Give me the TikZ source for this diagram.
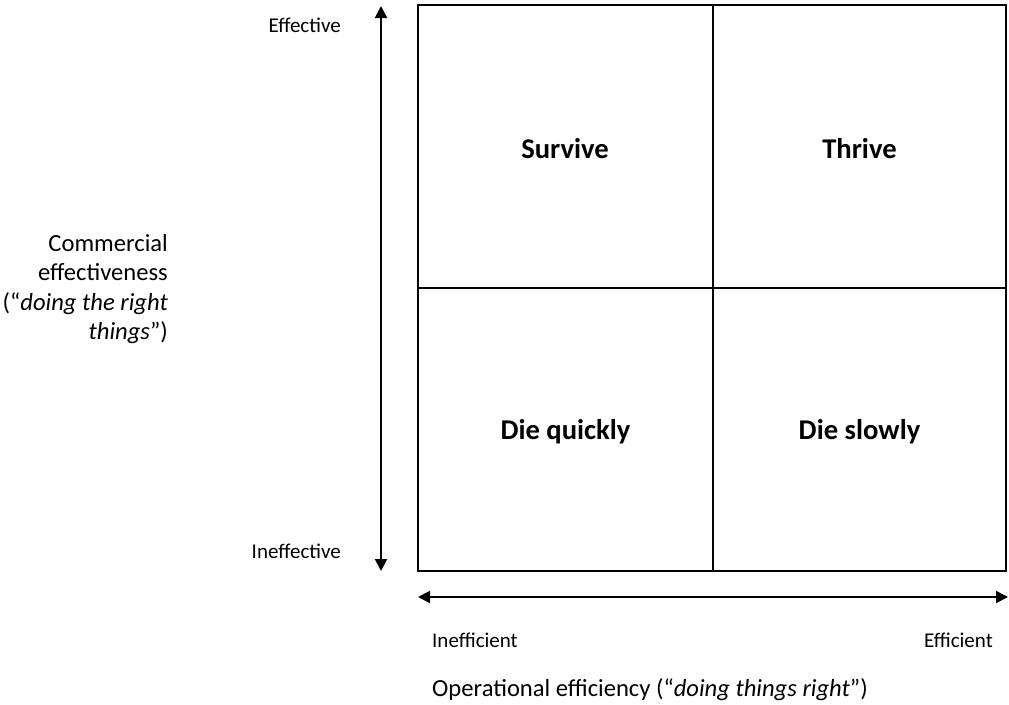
\documentclass[tikz,border=0pt]{standalone}
\usepackage{fontspec}
\setmainfont{Carlito}
\usetikzlibrary{arrows.meta}
\tikzset{
  grid/.style={line width=2pt, black},
  axis/.style={line width=2pt, black, {Triangle[length=12pt,width=12pt]}-{Triangle[length=12pt,width=12pt]}},
  quad/.style={font=\fontsize{28.6}{32}\selectfont\bfseries, anchor=center},
  endlabel/.style={font=\fontsize{21}{25}\selectfont, inner sep=0pt},
  title/.style={font=\fontsize{24.6}{29.5}\selectfont, inner sep=0pt}
}
\begin{document}
\begin{tikzpicture}[x=1pt,y=-1pt]
  \useasboundingbox (0,0) rectangle (1009,704);
  % quadrant frame
  \coordinate (tl) at (418,5);
  \coordinate (br) at (1006,571);
  \coordinate (tm) at (713,5);
  \coordinate (bm) at (713,571);
  \coordinate (ml) at (418,288);
  \coordinate (mr) at (1006,288);
  \draw[grid] (tl) rectangle (br);
  \draw[grid] (tm) -- (bm);
  \draw[grid] (ml) -- (mr);
  % quadrant names
  \node[quad] (survive) at (565,149) {Survive};
  \node[quad] (thrive) at (859.5,149) {Thrive};
  \node[quad] (dieq) at (565.5,432) {Die quickly};
  \node[quad] (dies) at (859.5,432) {Die slowly};
  % axes
  \coordinate (vtop) at (381,6);
  \coordinate (vbot) at (381,571);
  \coordinate (hleft) at (418,597);
  \coordinate (hright) at (1008,597);
  \draw[axis] (vbot) -- (vtop);
  \draw[axis] (hleft) -- (hright);
  % axis end labels
  \node[endlabel, anchor=east] (eff) at (341,25) {Effective};
  \node[endlabel, anchor=east] (ineff) at (341,551) {Ineffective};
  \node[endlabel, anchor=west] (inefc) at (432,640) {Inefficient};
  \node[endlabel, anchor=east] (efc) at (993,640) {Efficient};
  % axis titles
  \node[title, anchor=east, align=right] (ytitle) at (168,289)
    {Commercial\\effectiveness\\(“\textit{doing the right}\\\textit{things}”)};
  \node[title, anchor=west] (xtitle) at (432,690)
    {Operational efficiency (“\textit{doing things right}”)};
\end{tikzpicture}
\end{document}
